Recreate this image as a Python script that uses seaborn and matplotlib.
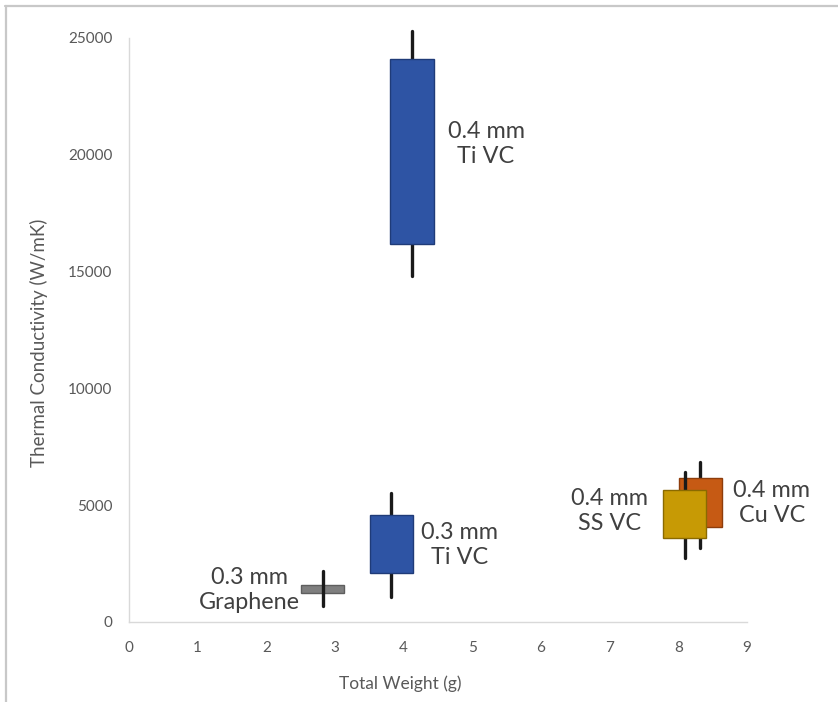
import pandas as pd
import numpy as np
import matplotlib.pyplot as plt
import seaborn as sns
from matplotlib.lines import Line2D

# values (weight in g, conductivity in W/mK)
names = ['0.3 mm\nGraphene', '0.3 mm\nTi VC', '0.4 mm\nTi VC', '0.4 mm\nCu VC', '0.4 mm\nSS VC']
weights = [2.82, 3.82, 4.12, 8.32, 8.09]
box_low = [1260, 2090, 16200, 4050, 3580]
box_high = [1580, 4580, 24100, 6150, 5650]
whisk_low = [690, 1090, 14800, 3150, 2730]
whisk_high = [2200, 5510, 25300, 6840, 6410]

colors = ['#7f7f7f', '#2e54a4', '#2e54a4', '#c65a14', '#c79a05']
edges = ['#5e5e5e', '#1f3b78', '#1f3b78', '#8e3d0b', '#8a6a00']

# where each text label sits (data units)
label_x = [1.76, 4.81, 5.20, 9.36, 7.0]
label_y = [1370, 3300, 20460, 5090, 4750]


def draw_chart():
    sns.set_theme(style='white')
    plt.rcParams['font.family'] = ['Lato', 'DejaVu Sans']

    fig = plt.figure(figsize=(8.38, 7.02), dpi=100)
    ax = fig.add_axes([0.1539, 0.1140, 0.7375, 0.8319])

    for i in range(len(names)):
        z = 2 + 3 * i
        seg = pd.DataFrame({'x': [weights[i]] * 2, 'y': [whisk_low[i], whisk_high[i]]})
        # graphene whisker shows through its thin box
        wz = z + 2 if i == 0 else z
        sns.lineplot(data=seg, x='x', y='y', estimator=None, sort=False,
                     color='#1a1a1a', lw=2.4, zorder=wz, clip_on=False, ax=ax)
        ax.bar(weights[i], box_high[i] - box_low[i], bottom=box_low[i], width=0.63,
               color=colors[i], edgecolor=edges[i], lw=1.0, zorder=z + 1)
        ax.text(label_x[i], label_y[i], names[i], ha='center', va='center',
                fontsize=16.8, color='#404040', linespacing=1.22)

    ax.set_xlim(0, 9)
    ax.set_ylim(0, 25000)
    ax.set_xticks(range(0, 10))
    ax.set_yticks(range(0, 25001, 5000))
    ax.tick_params(axis='both', length=0, labelcolor='#595959', labelsize=11)
    ax.tick_params(axis='x', pad=14)
    ax.tick_params(axis='y', pad=12)

    for side in ['top', 'right']:
        ax.spines[side].set_visible(False)
    for side in ['left', 'bottom']:
        ax.spines[side].set_color('#d9d9d9')
        ax.spines[side].set_linewidth(1.0)

    ax.set_xlabel('Total Weight (g)', fontsize=12.5, color='#595959')
    ax.set_ylabel('Thermal Conductivity (W/mK)', fontsize=13.5, color='#595959')
    ax.xaxis.set_label_coords(0.4385, -0.091)
    ax.yaxis.set_label_coords(-0.131, 0.478)

    # thin grey frame of the original screenshot
    fig.add_artist(Line2D([0.006, 1.0], [1 - 6 / 702] * 2, transform=fig.transFigure,
                          color='#c8c8c8', lw=1.6))
    fig.add_artist(Line2D([6 / 838] * 2, [0.0, 1 - 6 / 702], transform=fig.transFigure,
                          color='#c8c8c8', lw=1.6))

    fig.savefig('out.png', dpi=100)
    plt.close(fig)


if __name__ == "__main__":
    draw_chart()
